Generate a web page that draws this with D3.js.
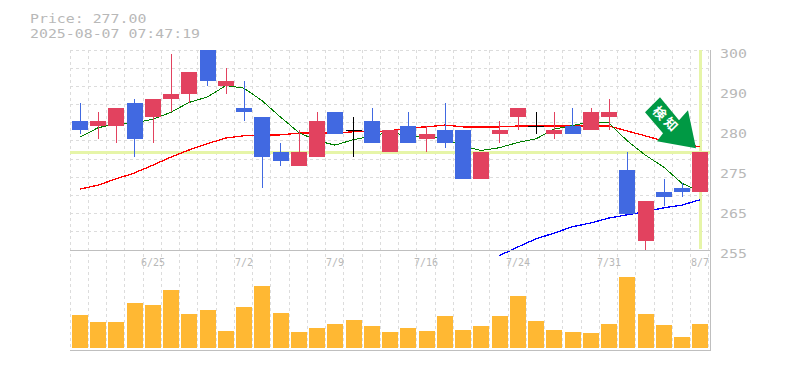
<!DOCTYPE html>
<html>
<head>
<meta charset="utf-8">
<script src="https://cdn.jsdelivr.net/npm/d3@7"></script>
<style>
html, body { margin: 0; background: #fff; }
svg { display: block; }
text { font-family: "DejaVu Sans Mono", monospace; }
</style>
</head>
<body>
<div class="chart"></div>
<script>
let dates = ["6/19","6/20","6/23","6/24","6/25","6/26","6/27","6/30","7/1","7/2","7/3","7/4","7/7","7/8","7/9","7/10","7/11","7/14","7/15","7/16","7/17","7/18","7/22","7/23","7/24","7/25","7/28","7/29","7/30","7/31","8/1","8/4","8/5","8/6","8/7"]
let dateTicks = ["6/25","7/2","7/9","7/16","7/24","7/31","8/7"]

let opens  = [284,283,283,288,285,289,290,302,292,287,285,277,274,276,286,282,284,277,283,280,282,282,271,281,285,283,281,283,282,285,273,257,268,269,268]
let closes = [282,284,287,280,289,290,295,293,293,286,276,275,277,284,281,282,279,282,279,281,279,271,277,282,287,283,282,281,286,286,263,266,267,268,277]
let highs  = [288,286,287,289,289,299,295,302,296,293,285,279,282,286,286,285,287,282,286,283,288,282,277,284,287,286,286,287,287,289,277,266,271,270,277]
let lows   = [281,280,279,276,279,286,288,292,290,284,269,274,274,276,281,276,279,277,279,277,278,271,271,279,282,281,280,281,282,282,263,255,265,267,268]

let ma5  = [280.4,282.5,283.4,283.6,284.4,286,288.2,289.4,292,291.4,288.6,285,281.4,279.6,278.6,279.8,280.6,281.6,280.6,280.6,280,278.4,277.4,278,279.2,280,282.2,283,283.8,283.6,279.6,276.4,273.6,270,268.2]
let ma25 = [268.7,269.6,271,272.3,274.1,275.9,277.5,278.9,280.2,280.7,280.9,280.9,281.3,281.3,281.3,281.6,281.6,281.8,282.5,282.7,283.1,282.7,282.7,282.7,282.9,282.9,282.9,282.9,282.9,282.9,281.8,280.7,279.5,278.9,278.2]
let ma75 = [null,null,null,null,null,null,null,null,null,null,null,null,null,null,null,null,null,null,null,null,null,null,null,253.7,255.7,257.5,258.8,260.2,261.1,262.2,262.9,263.6,264.5,265.1,266.3]
let volume = [33,26,26,45,43,58,34,38,17,41,62,35,16,20,24,28,22,16,20,17,32,18,22,32,52,27,18,16,15,24,71,34,23,11,24]

let priceLabels = ["300","290","280","275","265","255"]
let priceTicks = [300,291,282,273,264,255]
let lastPrice = 277
let priceText = "Price: 277.00"
let timeText = "2025-08-07 07:47:19"

let width = 785, height = 370
let plotLeft = 70, plotRight = 708.75, plotTop = 50, plotMid = 250, plotBottom = 350, volBase = 348
let frameX = 710
let labelColor = "#b8b8b8", charWidth = 8.95

let svg = d3.select(".chart").append("svg")
    .attr("width", width)
    .attr("height", height)

let x = d3.scaleBand().domain(dates).range([plotLeft, plotRight])
let y = d3.scaleLinear().domain([255, 300]).range([plotMid, plotTop])
let yVol = d3.scaleLinear().domain([0, 100]).range([volBase, volBase - 100])
let px = (d) => Math.floor(x(d))
let cx = (d) => px(d) + 10
let barX = (d) => Math.round(x(d) - 0.01) + 2

svg.append("clipPath").attr("id", "plot")
    .append("rect").attr("x", plotLeft).attr("y", plotTop).attr("width", frameX - plotLeft).attr("height", plotMid - plotTop + 1)

// grid
let grid = svg.append("g")
    .attr("stroke", "#dcdcdc")
    .attr("stroke-dasharray", "3,3")
    .attr("shape-rendering", "crispEdges")
grid.selectAll(".v")
    .data(d3.range(0, dates.length + 1))
    .enter().append("line")
    .attr("class", "v")
    .attr("x1", (d) => Math.floor(plotLeft + x.step() * d) + 0.5)
    .attr("x2", (d) => Math.floor(plotLeft + x.step() * d) + 0.5)
    .attr("y1", plotTop)
    .attr("y2", plotBottom)
grid.selectAll(".h")
    .data(d3.range(0, 11))
    .enter().append("line")
    .attr("class", "h")
    .attr("x1", plotLeft)
    .attr("x2", frameX)
    .attr("y1", (d) => Math.floor(plotTop + (plotMid - plotTop) / 11 * d) + 0.5)
    .attr("y2", (d) => Math.floor(plotTop + (plotMid - plotTop) / 11 * d) + 0.5)

// current price cross
let cross = svg.append("g").attr("stroke", "#e6f5a8").attr("stroke-width", 3).attr("shape-rendering", "crispEdges")
cross.append("line")
    .attr("x1", plotLeft).attr("x2", frameX)
    .attr("y1", Math.floor(y(lastPrice)) + 0.5).attr("y2", Math.floor(y(lastPrice)) + 0.5)
cross.append("line")
    .attr("x1", cx("8/7") + 0.5).attr("x2", cx("8/7") + 0.5)
    .attr("y1", plotTop).attr("y2", plotMid - 1)

// moving averages
let lines = [[ma75, "#0000ff"], [ma25, "#ff0000"], [ma5, "#007f00"]]
lines.forEach((item) => {
    let line = d3.line()
        .defined((d) => d != null)
        .x((d, i) => cx(dates[i]))
        .y((d) => y(d))
    svg.append("path")
        .datum(item[0])
        .attr("d", line)
        .attr("fill", "none")
        .attr("stroke", item[1])
        .attr("stroke-width", item[1] == "#007f00" ? 1 : 1.3)
        .attr("shape-rendering", "crispEdges")
})

// candles
let candleColor = (i) => closes[i] > opens[i] ? "#e2425f" : (closes[i] < opens[i] ? "#4169e1" : "#000000")
let candles = svg.append("g").attr("clip-path", "url(#plot)").attr("shape-rendering", "crispEdges")
candles.selectAll("line")
    .data(dates)
    .enter().append("line")
    .attr("x1", (d) => cx(d) + 0.5)
    .attr("x2", (d) => cx(d) + 0.5)
    .attr("y1", (d, i) => Math.round(y(highs[i])))
    .attr("y2", (d, i) => Math.round(y(lows[i])))
    .attr("stroke", (d, i) => candleColor(i))
    .attr("stroke-width", 1)
candles.selectAll("rect")
    .data(dates)
    .enter().append("rect")
    .attr("x", (d) => barX(d))
    .attr("width", 16)
    .attr("y", (d, i) => Math.round(y(Math.max(opens[i], closes[i]))))
    .attr("height", (d, i) => Math.max(1, Math.round(y(Math.min(opens[i], closes[i]))) - Math.round(y(Math.max(opens[i], closes[i])))))
    .attr("fill", (d, i) => candleColor(i))

// volume
svg.append("g").attr("shape-rendering", "crispEdges")
    .selectAll("rect")
    .data(dates)
    .enter().append("rect")
    .attr("x", (d) => barX(d))
    .attr("width", 16)
    .attr("y", (d, i) => yVol(volume[i]))
    .attr("height", (d, i) => yVol(0) - yVol(volume[i]))
    .attr("fill", "#ffb833")

// frame
let frame = svg.append("g").attr("stroke", "#bfbfbf").attr("shape-rendering", "crispEdges")
frame.append("line").attr("x1", plotLeft).attr("x2", frameX + 1).attr("y1", plotMid + 0.5).attr("y2", plotMid + 0.5)
frame.append("line").attr("x1", plotLeft).attr("x2", frameX + 1).attr("y1", plotBottom + 0.5).attr("y2", plotBottom + 0.5)
frame.append("line").attr("x1", frameX + 0.5).attr("x2", frameX + 0.5).attr("y1", plotTop).attr("y2", plotBottom)

// date labels
svg.append("g").selectAll("text")
    .data(dateTicks)
    .enter().append("text")
    .attr("x", (d) => cx(d))
    .attr("y", 266)
    .attr("text-anchor", "middle")
    .attr("font-size", 10)
    .attr("fill", labelColor)
    .text((d) => d)

// price axis
let yAxis = d3.axisRight(y)
    .tickValues(priceTicks)
    .tickFormat((d, i) => priceLabels[i])
    .tickSize(0)
    .tickPadding(0)
let axisG = svg.append("g")
    .attr("transform", `translate(720,3)`)
    .call(yAxis)
axisG.select(".domain").remove()
axisG.selectAll("text")
    .attr("font-family", "DejaVu Sans Mono")
    .attr("font-size", 13)
    .attr("fill", labelColor)
    .attr("textLength", 3 * charWidth)
    .attr("lengthAdjust", "spacingAndGlyphs")

// title
svg.selectAll(".title")
    .data([priceText, timeText])
    .enter().append("text")
    .attr("class", "title")
    .attr("x", 30)
    .attr("y", (d, i) => 23 + 15 * i)
    .attr("font-size", 13)
    .attr("fill", labelColor)
    .attr("textLength", (d) => d.length * charWidth)
    .attr("lengthAdjust", "spacingAndGlyphs")
    .text((d) => d)

// arrow
let tipX = cx("8/7") - 4, tipY = y(lastPrice) - 4
let arrowShape = [[-36, -51], [-51, -36], [-33, -15], [-39, -7], [0, 0], [-8, -38], [-17, -28]]
let arrow = svg.append("g").attr("transform", `translate(${tipX},${tipY})`)
arrow.append("polygon")
    .attr("points", arrowShape.map((d) => d.join(",")).join(" "))
    .attr("fill", "#009944")
arrow.append("text")
    .attr("transform", "translate(-29,-29) rotate(45)")
    .attr("text-anchor", "middle")
    .attr("dominant-baseline", "central")
    .attr("font-weight", "bold")
    .attr("font-size", 13)
    .attr("letter-spacing", 3)
    .attr("fill", "#ffffff")
    .style("font-family", "Noto Sans CJK JP")
    .text("検知")
</script>
</body>
</html>
